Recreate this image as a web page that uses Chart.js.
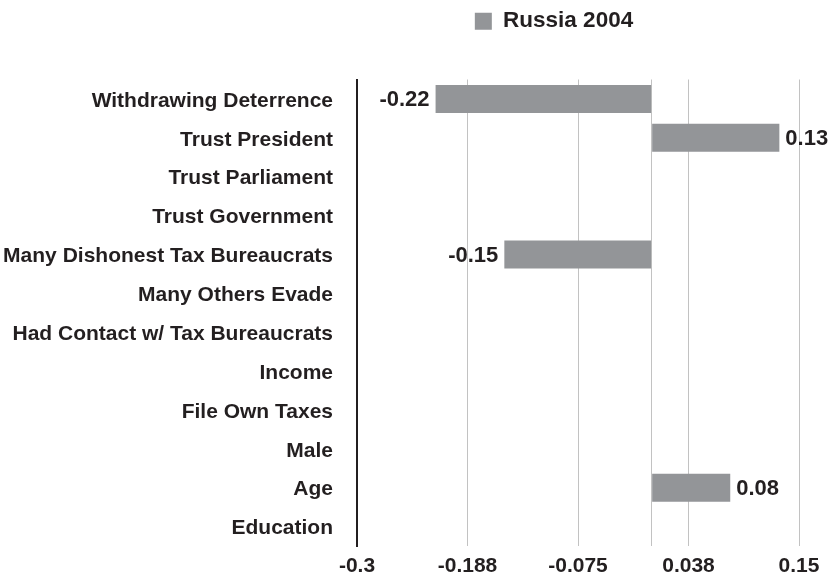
<!DOCTYPE html>
<html><head><meta charset="utf-8">
<script src="https://cdn.jsdelivr.net/npm/chart.js@4"></script>
<style>html,body{margin:0;padding:0;background:#fff}#wrap{width:831px;height:582px;position:relative}</style>
</head><body><div id="wrap"><canvas id="c"></canvas></div>
<script>
const categories = ["Withdrawing Deterrence","Trust President","Trust Parliament","Trust Government","Many Dishonest Tax Bureaucrats","Many Others Evade","Had Contact w/ Tax Bureaucrats","Income","File Own Taxes","Male","Age","Education"];
const seriesName = "Russia 2004";
const values = [-0.22, 0.13, null, null, -0.15, null, null, null, null, null, 0.08, null];
const tickValues = [-0.3, -0.1875, -0.075, 0.0375, 0.15];
const tickLabels = ["-0.3", "-0.188", "-0.075", "0.038", "0.15"];
const zeroLine = 0;

const FONT = "'Liberation Sans', Arial, Helvetica, sans-serif";
const TEXT = '#231f20';
const BAR = '#939598';

const legendPos = {
  id: 'legendPos',
  afterLayout(chart) {
    const lg = chart.legend;
    if (lg) { lg.left = 300; lg.right = 808; }
  }
};

const valueLabels = {
  id: 'valueLabels',
  afterDatasetsDraw(chart) {
    const ctx = chart.ctx;
    const meta = chart.getDatasetMeta(0);
    ctx.save();
    ctx.font = "bold 22px " + FONT;
    ctx.fillStyle = TEXT;
    ctx.textBaseline = 'middle';
    meta.data.forEach((el, i) => {
      const v = values[i];
      if (v === null || v === undefined) return;
      const t = v.toFixed(2);
      if (v < 0) { ctx.textAlign = 'right'; ctx.fillText(t, el.x - 6, el.y + 1); }
      else { ctx.textAlign = 'left'; ctx.fillText(t, el.x + 6, el.y + 1); }
    });
    ctx.restore();
  }
};

new Chart(document.getElementById('c'), {
  type: 'bar',
  data: {
    labels: categories,
    datasets: [{
      label: seriesName,
      data: values,
      backgroundColor: BAR,
      borderWidth: 0,
      barPercentage: 0.9,
      categoryPercentage: 0.8
    }]
  },
  options: {
    indexAxis: 'y',
    responsive: true,
    maintainAspectRatio: false,
    devicePixelRatio: 1,
    animation: false,
    layout: { padding: { top: 0, left: 0, right: 32, bottom: -5 } },
    plugins: {
      tooltip: { enabled: false },
      legend: {
        display: true,
        position: 'top',
        weight: 3000,
        labels: {
          boxWidth: 17, boxHeight: 17,
          color: TEXT,
          padding: 10,
          font: { family: FONT, size: 22.5, weight: 'bold' }
        }
      },
      title: {
        display: true,
        text: '',
        padding: { top: 0, bottom: 0 },
        font: { size: 37, lineHeight: 1 }
      }
    },
    scales: {
      x: {
        type: 'linear',
        position: 'bottom',
        min: -0.3,
        max: 0.15,
        afterBuildTicks(scale) {
          scale.ticks = tickValues.concat([zeroLine]).sort((a, b) => a - b).map(v => ({ value: v }));
        },
        ticks: {
          autoSkip: false,
          maxRotation: 0,
          padding: 10,
          color: TEXT,
          font: { family: FONT, size: 21, weight: 'bold', lineHeight: 1 },
          callback(value) {
            const i = tickValues.indexOf(value);
            return i >= 0 ? tickLabels[i] : '';
          }
        },
        grid: {
          drawTicks: false,
          lineWidth: 1,
          color: (c) => (c.tick && c.tick.value === -0.3) ? 'rgba(0,0,0,0)' : '#c2c2c2'
        },
        border: { display: false }
      },
      y: {
        type: 'category',
        afterFit(scale) { scale.width = 357; scale.paddingTop = 0; scale.paddingBottom = 0; },
        ticks: {
          padding: 24,
          labelOffset: 2,
          color: TEXT,
          autoSkip: false,
          font: { family: FONT, size: 21, weight: 'bold' }
        },
        grid: { display: false, drawTicks: false },
        border: { display: true, color: TEXT, width: 2 }
      }
    }
  },
  plugins: [legendPos, valueLabels]
});
</script>
</body></html>
